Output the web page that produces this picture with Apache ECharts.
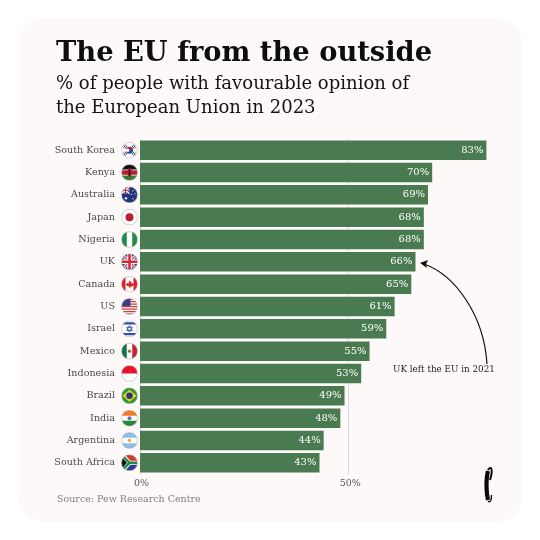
<!DOCTYPE html>
<html><head><meta charset="utf-8">
<style>html,body{margin:0;padding:0;background:#fff}#c{width:540px;height:540px}</style>
<script src="https://cdn.jsdelivr.net/npm/echarts@6/dist/echarts.min.js"></script></head>
<body><div id="c"></div>
<script>
const categories=["South Korea","Kenya","Australia","Japan","Nigeria","UK","Canada","US","Israel","Mexico","Indonesia","Brazil","India","Argentina","South Africa"];
const values=[83,70,69,68,68,66,65,61,59,55,53,49,48,44,43];
const tickValues=[0,50];
const titleText="The EU from the outside";
const subtitleText="% of people with favourable opinion of\nthe European Union in 2023";
const sourceText="Source: Pew Research Centre";
const noteText="UK left the EU in 2021";
const flagArt={
"South Korea":'<rect width="32" height="32" fill="#fff"/><path d="M9 16a7 7 0 0 1 14 0a3.500 3.500 0 0 1-7 0a3.500 3.500 0 0 0-7 0" fill="#c8102e"/><path d="M9 16a3.500 3.500 0 0 0 7 0a3.500 3.500 0 0 1 7 0a7 7 0 0 1-14 0" fill="#1f4b99"/><g stroke="#222" stroke-width="1.8"><path d="M4 11l4-6M7 13l4-6M21 7l4 6M24 5l4 6M4 21l4 6M7 19l4 6M21 25l4-6M24 27l4-6"/></g>',
"Kenya":'<rect width="32" height="11" fill="#111"/><rect y="11" width="32" height="10" fill="#b71c2b"/><rect y="21" width="32" height="11" fill="#2f7d3b"/><rect y="10" width="32" height="1.5" fill="#fff"/><rect y="20.5" width="32" height="1.5" fill="#fff"/><ellipse cx="16" cy="16" rx="4" ry="9" fill="#b71c2b"/><ellipse cx="16" cy="16" rx="1.5" ry="7" fill="#111"/>',
"Australia":'<rect width="32" height="32" fill="#22337f"/><path d="M0 0L16 14M16 0L0 14" stroke="#fff" stroke-width="2.5"/><path d="M8 0V14M0 7H16" stroke="#fff" stroke-width="4"/><path d="M8 0V14M0 7H16" stroke="#c8202f" stroke-width="2"/><g fill="#fff"><circle cx="9" cy="23" r="2.4"/><circle cx="23" cy="8" r="1.3"/><circle cx="27" cy="14" r="1.3"/><circle cx="20" cy="15" r="1.3"/><circle cx="23" cy="24" r="1.3"/></g>',
"Japan":'<rect width="32" height="32" fill="#fff"/><circle cx="16" cy="16" r="8" fill="#bc1c2e"/>',
"Nigeria":'<rect width="32" height="32" fill="#fff"/><rect width="10.5" height="32" fill="#1e8a4c"/><rect x="21.5" width="10.5" height="32" fill="#1e8a4c"/>',
"UK":'<rect width="32" height="32" fill="#26408f"/><path d="M0 0L32 32M32 0L0 32" stroke="#fff" stroke-width="6"/><path d="M0 0L32 32M32 0L0 32" stroke="#d0283a" stroke-width="2.4"/><path d="M16 0V32M0 16H32" stroke="#fff" stroke-width="9"/><path d="M16 0V32M0 16H32" stroke="#d0283a" stroke-width="5"/>',
"Canada":'<rect width="32" height="32" fill="#fff"/><rect width="8" height="32" fill="#d8232f"/><rect x="24" width="8" height="32" fill="#d8232f"/><path d="M16 7l2 4 2-1-1 5 3-2 1 2 2 0-1 4-6 2 0 3h-2l0-3-6-2-1-4 2 0 1-2 3 2-1-5 2 1z" fill="#d8232f"/>',
"US":'<rect width="32" height="32" fill="#fff"/><g fill="#c73a45"><rect y="0" width="32" height="2.5"/><rect y="5" width="32" height="2.5"/><rect y="10" width="32" height="2.5"/><rect y="15" width="32" height="2.5"/><rect y="20" width="32" height="2.5"/><rect y="25" width="32" height="2.5"/><rect y="30" width="32" height="2.5"/></g><rect width="18" height="15" fill="#3c3f86"/>',
"Israel":'<rect width="32" height="32" fill="#fff"/><rect y="3" width="32" height="4.5" fill="#2c50a8"/><rect y="24.5" width="32" height="4.5" fill="#2c50a8"/><path d="M16 9.5l5.6 9.7H10.400zM16 22.500l-5.600-9.700h11.200z" fill="none" stroke="#2c50a8" stroke-width="1.800"/>',
"Mexico":'<rect width="32" height="32" fill="#fff"/><rect width="10.500" height="32" fill="#12744a"/><rect x="21.500" width="10.500" height="32" fill="#c8202f"/><circle cx="16" cy="16" r="3.200" fill="#8a6a3a"/>',
"Indonesia":'<rect width="32" height="32" fill="#fff"/><rect width="32" height="16" fill="#e8132b"/>',
"Brazil":'<rect width="32" height="32" fill="#2a9a3c"/><path d="M16 4L30 16 16 28 2 16z" fill="#f6d21e"/><circle cx="16" cy="16" r="6.500" fill="#26367f"/>',
"India":'<rect width="32" height="32" fill="#fff"/><rect width="32" height="11" fill="#f47b2a"/><rect y="21" width="32" height="11" fill="#23883c"/><circle cx="16" cy="16" r="4" fill="#6a6fa8"/>',
"Argentina":'<rect width="32" height="32" fill="#fff"/><rect width="32" height="10.500" fill="#8cc0e8"/><rect y="21.500" width="32" height="10.500" fill="#8cc0e8"/><circle cx="16" cy="16" r="3.500" fill="#f0a83a"/>',
"South Africa":'<rect width="32" height="16" fill="#d8392c"/><rect y="16" width="32" height="16" fill="#26408f"/><path d="M0 0L16 16 0 32" fill="#111"/><path d="M0 -2L16 16H32M16 16L0 34" fill="none" stroke="#fff" stroke-width="8"/><path d="M0 0L16 16H32M16 16L0 32" fill="none" stroke="#1f8a4a" stroke-width="5"/><path d="M0 6L10 16 0 26z" fill="#111"/>'
};
function flagUri(name){
  const svg='<svg xmlns="http://www.w3.org/2000/svg" width="64" height="64" viewBox="-1 -1 34 34"><clipPath id="k"><circle cx="16" cy="16" r="16"/></clipPath><g clip-path="url(#k)">'+flagArt[name]+'</g><circle cx="16" cy="16" r="15.700" fill="none" stroke="#a8a4a3" stroke-width="1"/></svg>';
  return 'data:image/svg+xml;charset=utf-8,'+encodeURIComponent(svg);
}
const serif='"DejaVu Serif","Liberation Serif",serif';
const rich={n:{fontFamily:serif,fontSize:9.6,color:'#4a4a4a',padding:[0,6,0,0]}};
categories.forEach((c,i)=>{rich['f'+i]={width:17,height:17,backgroundColor:{image:flagUri(c)}};});
const chart=echarts.init(document.getElementById('c'),null,{renderer:'canvas'});
chart.setOption({
  animation:false,
  backgroundColor:'#ffffff',
  title:[
    {text:titleText,left:51,top:35,textStyle:{fontFamily:serif,fontSize:27.3,fontWeight:'bold',color:'#0d0d0d'}},
    {text:subtitleText,left:51,top:67,textStyle:{fontFamily:serif,fontSize:18.05,fontWeight:'normal',color:'#141414',lineHeight:24}},
    {text:sourceText,left:52,top:490,textStyle:{fontFamily:serif,fontSize:9.5,fontWeight:'normal',color:'#808080'}}
  ],
  grid:{left:140,top:139,width:417.4,height:335,outerBoundsMode:'none'},
  xAxis:{type:'value',min:0,max:100,interval:50,position:'bottom',
    axisLine:{show:false},axisTick:{show:false},
    axisLabel:{margin:5,fontFamily:serif,fontSize:9.5,color:'#555',formatter:v=>tickValues.includes(v)?v+'%':'',padding:[0,0,0,3]},
    splitLine:{show:true,lineStyle:{color:'#dcdad9',width:1}}},
  yAxis:{type:'category',data:categories,inverse:true,
    axisLine:{show:false},axisTick:{show:false},
    axisLabel:{margin:2,formatter:(v,i)=>'{n|'+v+'}{f'+i+'|}',rich:rich}},
  series:[{type:'bar',data:values,barWidth:19.500,
    itemStyle:{color:'#4a7a50'},
    label:{show:true,position:'insideRight',distance:3,formatter:'{c}%',fontFamily:serif,fontSize:10,color:'#fff'}}],
  graphic:[
    {type:'rect',z:-10,silent:true,shape:{x:18,y:18,width:504,height:504,r:26},style:{fill:'#fdf9f8'}},
    {type:'text',z:5,x:393,y:365,style:{text:noteText,font:'8.8px '+serif,fill:'#1c1c1c'}},
    {type:'bezierCurve',z:5,shape:{x1:487,y1:364,cpx1:484,cpy1:315,cpx2:455,cpy2:275,x2:424,y2:264},style:{stroke:'#111',lineWidth:1.2,fill:'none'}},
    {type:'polygon',z:5,shape:{points:[[420,263],[428,260],[426,264.500],[427,268]]},style:{fill:'#111'}},
    {type:'bezierCurve',z:5,shape:{x1:488,y1:471,cpx1:486,cpy1:478,cpx2:486,cpy2:492,x2:488,y2:500},style:{stroke:'#0a0a0a',lineWidth:4.2,fill:'none'}},
    {type:'bezierCurve',z:5,shape:{x1:488,y1:470,cpx1:490,cpy1:466,cpx2:494,cpy2:467,x2:490,y2:480},style:{stroke:'#0a0a0a',lineWidth:2,fill:'none'}},
    {type:'bezierCurve',z:5,shape:{x1:488,y1:501,cpx1:490,cpy1:503,cpx2:491.500,cpy2:501,x2:491.500,y2:495},style:{stroke:'#0a0a0a',lineWidth:1.4,fill:'none'}}
  ]
});
</script></body></html>
